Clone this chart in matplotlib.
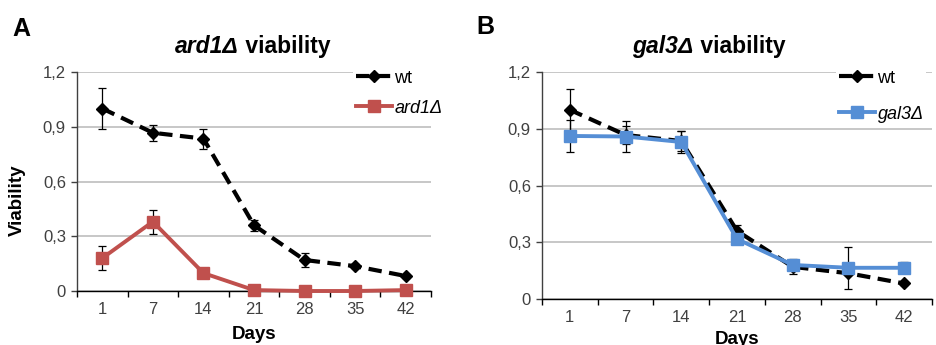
import matplotlib.pyplot as plt
import numpy as np

plt.rcParams['font.family'] = ['Liberation Sans', 'DejaVu Sans']

days = ['1', '7', '14', '21', '28', '35', '42']

wt = [1.00, 0.867, 0.835, 0.36, 0.17, 0.136, 0.082]
wt_err = [0.11, 0.045, 0.055, 0.03, 0.04, 0.01, 0.01]

ard1 = [0.18, 0.38, 0.098, 0.005, 0.0, 0.0, 0.005]
ard1_err = [0.065, 0.065, 0.01, 0.0, 0.0, 0.0, 0.0]

gal3 = [0.862, 0.859, 0.83, 0.317, 0.18, 0.165, 0.165]
gal3_err = [0.085, 0.08, 0.06, 0.02, 0.02, 0.11, 0.03]

yticks = [0, 0.3, 0.6, 0.9, 1.2]
ytick_labels = ['0', '0,3', '0,6', '0,9', '1,2']

W, H = 937, 345
RED = '#C0504D'
BLUE = '#558ED5'
TICK_COLOR = '#404040'


def style_axis(ax):
    x = np.arange(len(days))
    ax.set_xlim(-0.5, len(days) - 0.5)
    ax.set_ylim(0, 1.2)
    ax.set_yticks(yticks)
    ax.set_yticklabels(ytick_labels)
    ax.set_xticks(x)
    ax.set_xticklabels(days)
    ax.set_xticks(np.arange(len(days) + 1) - 0.5, minor=True)
    ax.tick_params(axis='x', which='major', length=0, pad=8,
                   labelsize=12, labelcolor=TICK_COLOR)
    ax.tick_params(axis='x', which='minor', length=4.5, width=1,
                   direction='out', color='black')
    ax.tick_params(axis='y', length=4, width=1, direction='out', pad=4,
                   labelsize=12, labelcolor=TICK_COLOR, color='#404040')
    ax.grid(axis='y', color='#BEBEBE', linewidth=1.2, zorder=0)
    ax.set_axisbelow(True)
    for s in ['top', 'right']:
        ax.spines[s].set_visible(False)
    ax.spines['left'].set_color('#404040')
    ax.spines['bottom'].set_color('black')
    ax.spines['left'].set_linewidth(1)
    ax.spines['bottom'].set_linewidth(1)


def draw_title(fig, renderer, x_center, italic_part, rest):
    t1 = fig.text(0, 1 - 53 / H, italic_part, fontsize=16.5, weight='bold',
                  style='italic', va='baseline', ha='left')
    t2 = fig.text(0, 1 - 53 / H, rest, fontsize=16.5, weight='bold',
                  va='baseline', ha='left')
    w1 = t1.get_window_extent(renderer).width
    w2 = t2.get_window_extent(renderer).width
    left = x_center - (w1 + w2) / 2
    t1.set_x(left / W)
    t2.set_x((left + w1) / W)


def main() -> None:
    fig = plt.figure(figsize=(W / 100, H / 100), dpi=100)
    renderer = fig.canvas.get_renderer()
    x = np.arange(len(days))

    # panel A
    axA = fig.add_axes([77 / W, 1 - 291 / H, (431 - 77) / W, (291 - 72) / H])
    style_axis(axA)
    axA.errorbar(x, wt, yerr=wt_err, fmt='none', ecolor='black',
                 elinewidth=0.9, capsize=2.8, capthick=0.9, zorder=3)
    axA.errorbar(x, ard1, yerr=ard1_err, fmt='none', ecolor='black',
                 elinewidth=0.9, capsize=2.8, capthick=0.9, zorder=3)
    lA1, = axA.plot(x, wt, color='black', linewidth=3, dashes=(3.2, 1.8),
                    marker='D', markersize=6.5, label='wt', zorder=4)
    lA2, = axA.plot(x, ard1, color=RED, linewidth=2.8, marker='s',
                    markersize=9, label='ard1Δ', zorder=5)
    for c in [lA1, lA2]:
        c.set_clip_on(False)
    axA.set_ylabel('Viability', fontsize=13.5, weight='bold')
    axA.yaxis.set_label_coords(-0.144, 0.415)
    axA.set_xlabel('Days', fontsize=13.5, weight='bold')
    axA.xaxis.set_label_coords(0.5, -0.16)
    legA = axA.legend(handles=[lA1, lA2], loc='upper left',
                      bbox_to_anchor=(353 / W, 1 - 67 / H),
                      bbox_transform=fig.transFigure, frameon=True,
                      fancybox=False, edgecolor='none', facecolor='white',
                      framealpha=1, fontsize=13, handlelength=2.0,
                      handletextpad=0.15, labelspacing=0.72,
                      borderpad=0.15, borderaxespad=0)
    legA.get_texts()[1].set_fontstyle('italic')
    draw_title(fig, renderer, 253, 'ard1Δ', ' viability')
    fig.text(12 / W, 1 - 36 / H, 'A', fontsize=18, weight='bold',
             va='baseline', ha='left')

    # panel B
    axB = fig.add_axes([542 / W, 1 - 299 / H, (932 - 542) / W, (299 - 72) / H])
    style_axis(axB)
    axB.errorbar(x, wt, yerr=wt_err, fmt='none', ecolor='black',
                 elinewidth=0.9, capsize=2.8, capthick=0.9, zorder=3)
    axB.errorbar(x, gal3, yerr=gal3_err, fmt='none', ecolor='black',
                 elinewidth=0.9, capsize=2.8, capthick=0.9, zorder=3)
    lB1, = axB.plot(x, wt, color='black', linewidth=3, dashes=(3.2, 1.8),
                    marker='D', markersize=6.5, label='wt', zorder=4)
    lB2, = axB.plot(x, gal3, color=BLUE, linewidth=2.8, marker='s',
                    markersize=9, label='gal3Δ', zorder=5)
    for c in [lB1, lB2]:
        c.set_clip_on(False)
    axB.set_xlabel('Days', fontsize=13.5, weight='bold')
    axB.xaxis.set_label_coords(0.5, -0.14)
    legB = axB.legend(handles=[lB1, lB2], loc='upper left',
                      bbox_to_anchor=(836 / W, 1 - 67 / H),
                      bbox_transform=fig.transFigure, frameon=True,
                      fancybox=False, edgecolor='none', facecolor='white',
                      framealpha=1, fontsize=13, handlelength=2.0,
                      handletextpad=0.15, labelspacing=1.05,
                      borderpad=0.15, borderaxespad=0)
    legB.get_texts()[1].set_fontstyle('italic')
    draw_title(fig, renderer, 709, 'gal3Δ', ' viability')
    fig.text(476 / W, 1 - 34 / H, 'B', fontsize=18, weight='bold',
             va='baseline', ha='left')

    fig.savefig('out.png', dpi=100)
    plt.close(fig)


if __name__ == '__main__':
    main()
